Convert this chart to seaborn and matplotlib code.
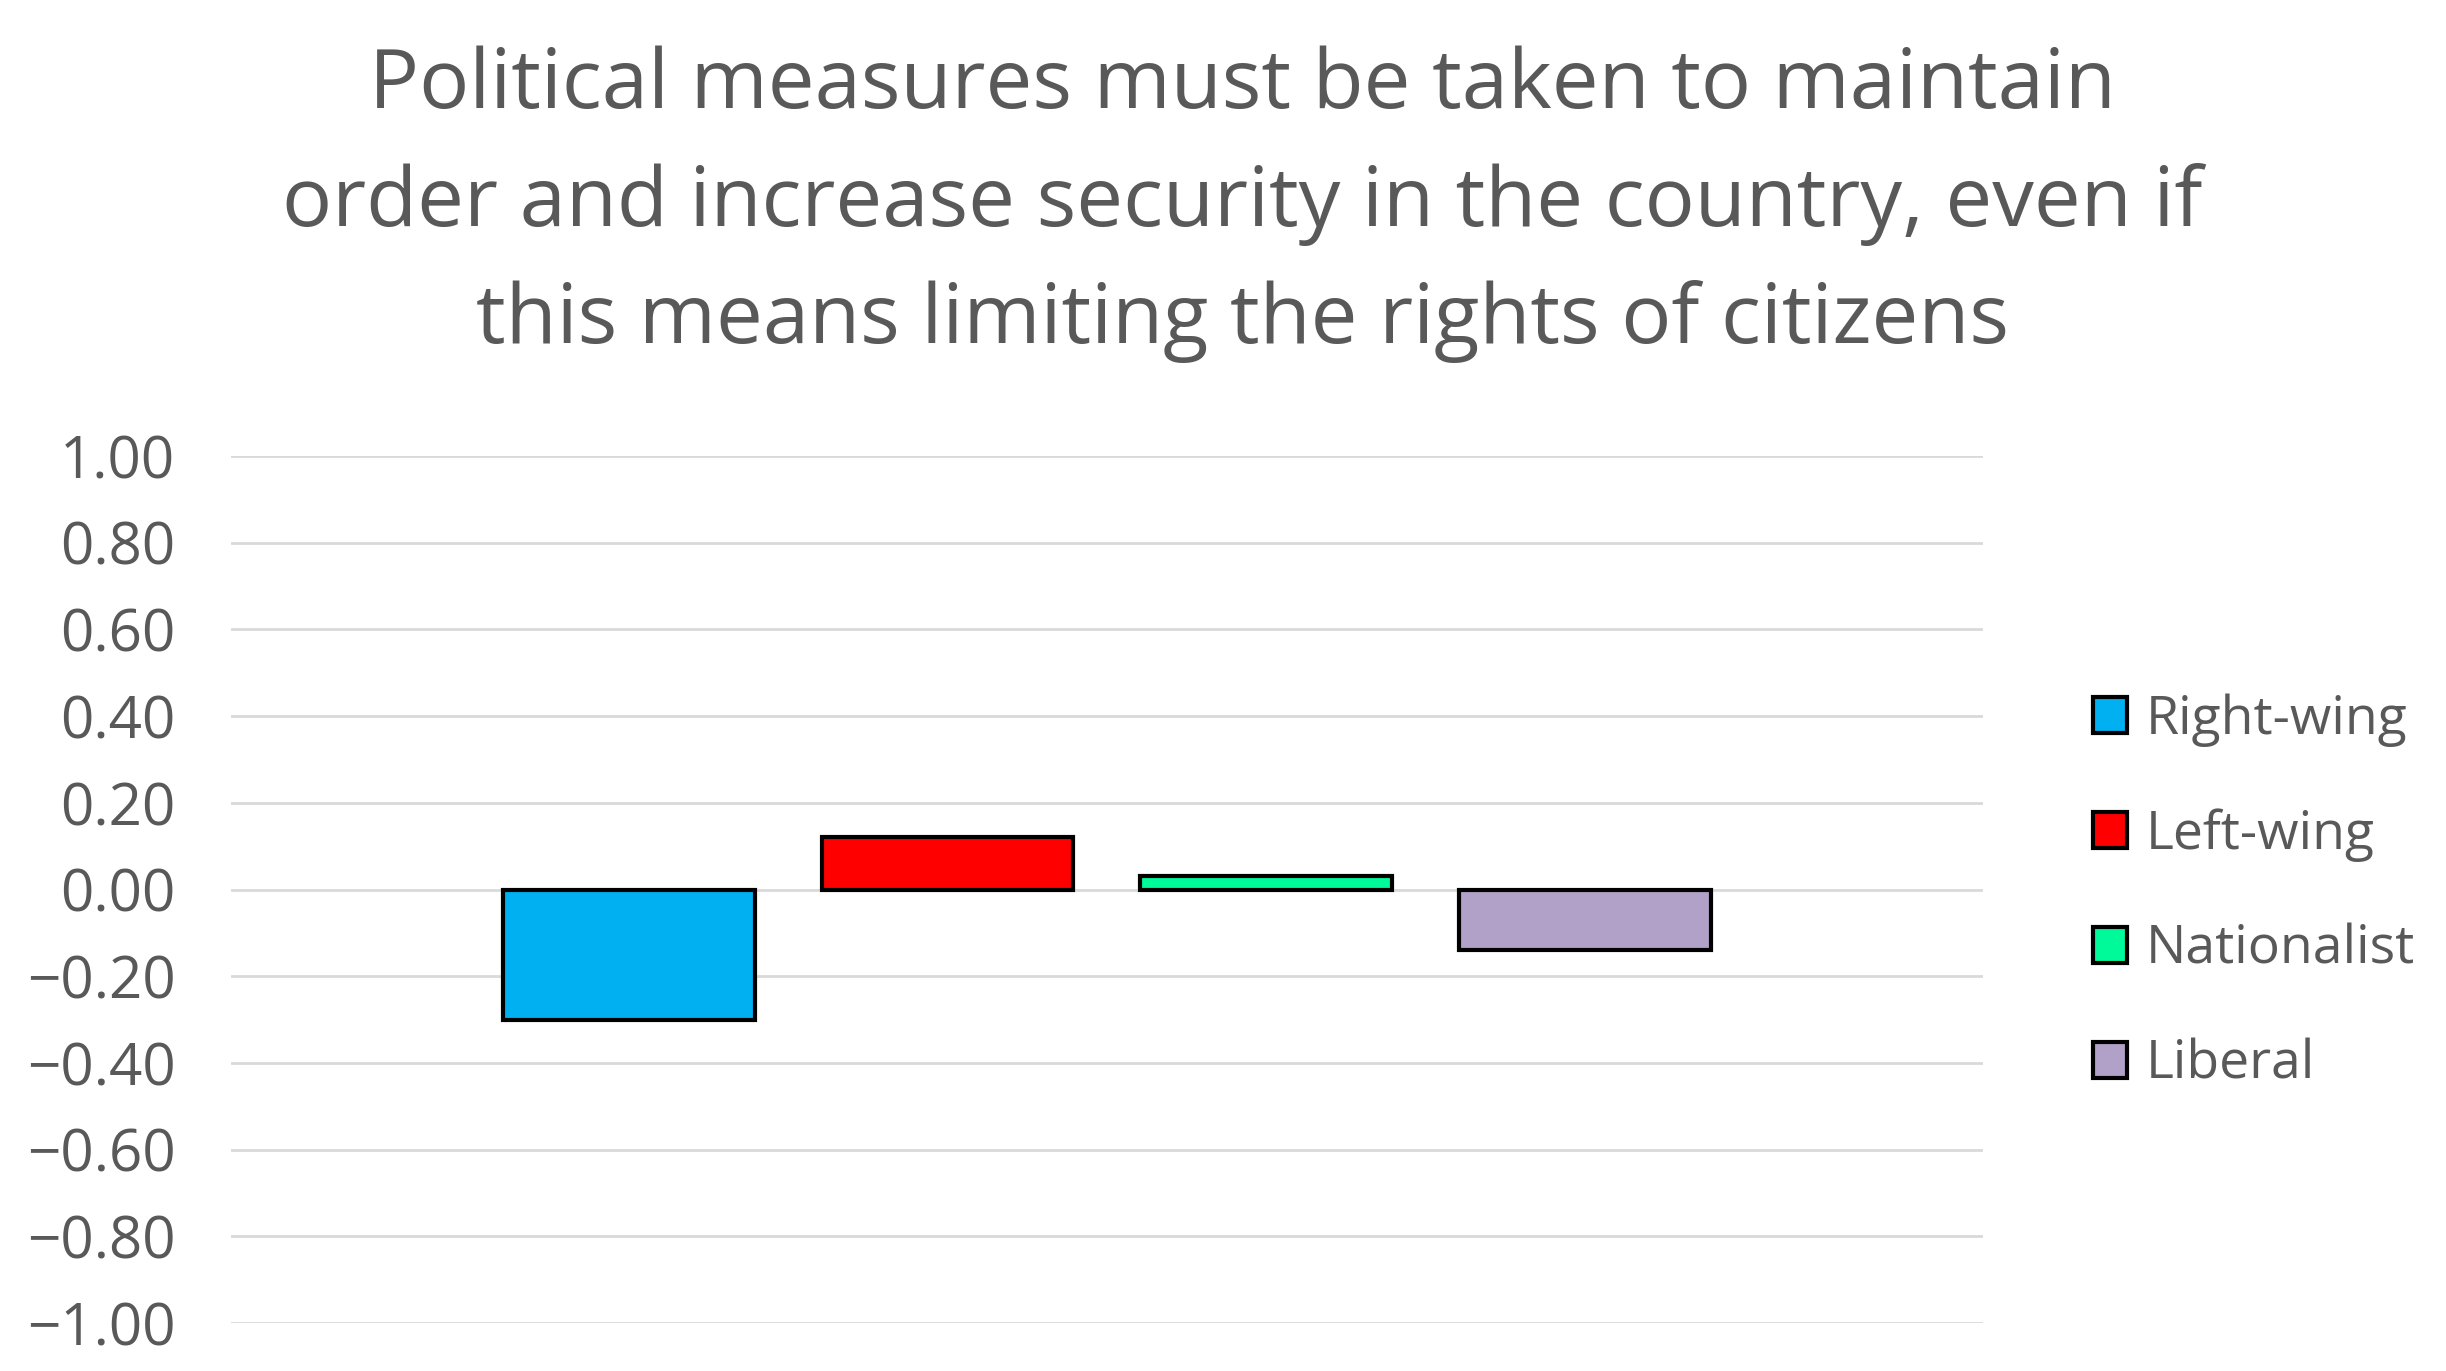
import numpy as np
import pandas as pd
import matplotlib.pyplot as plt
import seaborn as sns

groups = ['Right-wing', 'Left-wing', 'Nationalist', 'Liberal']
scores = [-0.30, 0.12, 0.03, -0.14]
colors = ['#00b0f0', '#ff0000', '#00fa9a', '#b1a0c7']
yticks = [1.0, 0.8, 0.6, 0.4, 0.2, 0.0, -0.2, -0.4, -0.6, -0.8, -1.0]
title = ("Political measures must be taken to maintain\n"
         "order and increase security in the country, even if\n"
         "this means limiting the rights of citizens")

df = pd.DataFrame({'Group': groups, 'Score': scores})

sns.set_style("white")
plt.rcParams['font.family'] = ['Open Sans', 'DejaVu Sans']
text_col = '#595959'

fig = plt.figure(figsize=(24.46, 13.71), dpi=100)
ax = fig.add_axes([0.0944, 0.035, 0.7163, 0.6324])

sns.barplot(data=df, x='Group', y='Score', hue='Group', palette=colors, saturation=1,
            width=0.79, edgecolor='black', linewidth=3, legend=False, ax=ax)

ax.set_ylim(-1, 1)
ax.set_xlim(-1.25, 4.25)
ax.set_yticks(yticks)
ax.set_yticklabels([f"{v:.2f}".replace('-', '\u2212') for v in yticks])
ax.tick_params(axis='y', labelsize=42, labelcolor=text_col, length=0, pad=40)
ax.set_xticks([])
ax.set_xlabel('')
ax.set_ylabel('')
ax.grid(axis='y', color='#d9d9d9', linewidth=2)
ax.set_axisbelow(True)
for s in ax.spines.values():
    s.set_visible(False)

handles = [plt.Rectangle((0, 0), 1, 1, facecolor=c, edgecolor='black', linewidth=3)
           for c in colors]
fig.legend(handles, groups, loc='center left', bbox_to_anchor=(0.836, 0.349),
           frameon=False, fontsize=38.5, labelcolor=text_col, handlelength=0.64,
           handleheight=0.64, handletextpad=0.35, labelspacing=1.15)

fig.text(0.508, 0.851, title, ha='center', va='center', fontsize=60, color=text_col,
         linespacing=1.55)

fig.savefig('out.png', dpi=100)
